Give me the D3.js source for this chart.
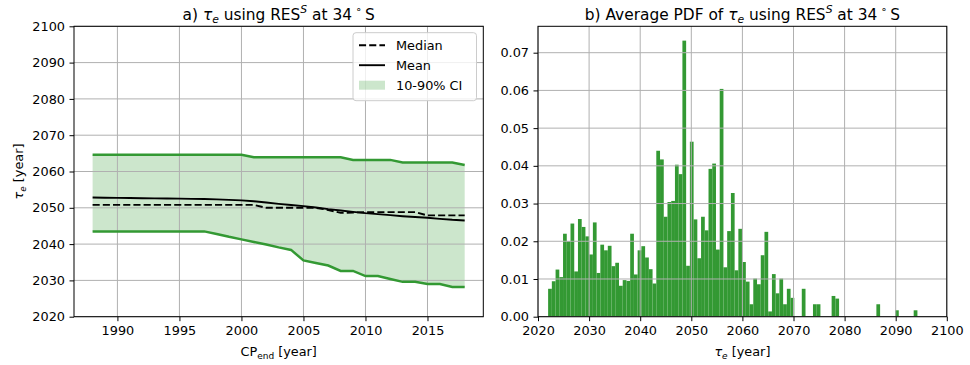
<!DOCTYPE html>
<html>
<head>
<meta charset="utf-8">
<script src="https://cdn.jsdelivr.net/npm/d3@7"></script>
<style>
  body { margin: 0; background: #fff; }
  svg { display: block; font-family: "DejaVu Sans", sans-serif; }
  text { white-space: pre; }
</style>
</head>
<body>
<svg id="fig" width="970" height="365"></svg>
<script>
// ---- Panel a: tau_e versus end year of the calibration period ----
const cpEndYears = [1988, 1989, 1990, 1991, 1992, 1993, 1994, 1995, 1996, 1997,
  1998, 1999, 2000, 2001, 2002, 2003, 2004, 2005, 2006, 2007,
  2008, 2009, 2010, 2011, 2012, 2013, 2014, 2015, 2016, 2017, 2018];
const ciUpper = [2064.6, 2064.6, 2064.6, 2064.6, 2064.6, 2064.6, 2064.6, 2064.6, 2064.6, 2064.6,
  2064.6, 2064.6, 2064.6, 2063.9, 2063.9, 2063.9, 2063.9, 2063.9, 2063.9, 2063.9,
  2063.9, 2063.2, 2063.2, 2063.2, 2063.2, 2062.5, 2062.5, 2062.5, 2062.5, 2062.5, 2061.8];
const ciLower = [2043.5, 2043.5, 2043.5, 2043.5, 2043.5, 2043.5, 2043.5, 2043.5, 2043.5, 2043.5,
  2042.8, 2042.0, 2041.3, 2040.6, 2039.9, 2039.1, 2038.4, 2035.5, 2034.8, 2034.1,
  2032.6, 2032.6, 2031.2, 2031.2, 2030.4, 2029.6, 2029.6, 2029.0, 2029.0, 2028.2, 2028.2];
const medianTau = [2050.8, 2050.8, 2050.8, 2050.8, 2050.8, 2050.8, 2050.8, 2050.8, 2050.8, 2050.8,
  2050.8, 2050.8, 2050.8, 2050.8, 2050.0, 2050.0, 2050.0, 2050.0, 2050.0, 2049.4,
  2048.6, 2048.7, 2048.8, 2048.8, 2048.8, 2048.8, 2048.8, 2047.9, 2047.9, 2047.9, 2047.9];
const meanTau = [2052.83, 2052.78, 2052.74, 2052.70, 2052.65, 2052.61, 2052.56, 2052.52, 2052.47, 2052.42,
  2052.33, 2052.19, 2052.05, 2051.82, 2051.46, 2051.09, 2050.77, 2050.45, 2050.08, 2049.62,
  2049.25, 2048.89, 2048.52, 2048.25, 2047.97, 2047.69, 2047.47, 2047.24, 2046.96, 2046.69, 2046.50];
const leftXTicks = [1990, 1995, 2000, 2005, 2010, 2015];
const leftYTicks = [2020, 2030, 2040, 2050, 2060, 2070, 2080, 2090, 2100];
const legendLabels = ["Median", "Mean", "10-90% CI"];

// ---- Panel b: average PDF of tau_e (histogram) ----
const pdfBinStart = 2021.98;
const pdfBinWidth = 0.73;
const pdfValues = [
  0.0074, 0.0094, 0.0125, 0.0105, 0.0220, 0.0200, 0.0247, 0.0120, 0.0259, 0.0238,
  0.0213, 0.0165, 0.0250, 0.0116, 0.0191, 0.0176, 0.0188, 0.0134, 0.0143, 0.0082,
  0.0097, 0.0095, 0.0220, 0.0112, 0.0176, 0.0187, 0.0157, 0.0126, 0.0088, 0.0440,
  0.0417, 0.0265, 0.0304, 0.0307, 0.0403, 0.0378, 0.0732, 0.0135, 0.0464, 0.0258,
  0.0155, 0.0265, 0.0229, 0.0392, 0.0406, 0.0178, 0.0604, 0.0131, 0.0227, 0.0328,
  0.0123, 0.0233, 0.0145, 0.0093, 0.0033, 0.0101, 0.0086, 0.0163, 0.0225, 0.0014,
  0.0113, 0.0062, 0.0101, 0.0033, 0.0074, 0.0050, 0, 0, 0.0074, 0,
  0, 0.0033, 0.0033, 0, 0, 0, 0.0055, 0.0048, 0, 0,
  0, 0, 0, 0, 0, 0, 0, 0, 0.0033, 0,
  0, 0, 0, 0.0017, 0, 0, 0, 0, 0.0017];
const rightXTicks = [2020, 2030, 2040, 2050, 2060, 2070, 2080, 2090, 2100];
const rightYTicks = [0, 0.01, 0.02, 0.03, 0.04, 0.05, 0.06, 0.07];

// ---- styling ----
const FS = 12.85, TITLE_FS = 15.4;
const lineGreen = "#339933";
const fillGreen = "#008000";
const gridColor = "#b0b0b0";

const svg = d3.select("#fig");
const axTop = 26.3, axBottom = 316.7;
const panelA = { left: 74, right: 483.3 };
const panelB = { left: 538, right: 946.8 };

const xA = d3.scaleLinear().domain([1986.5, 2019.5]).range([panelA.left, panelA.right]);
const yA = d3.scaleLinear().domain([2020, 2100]).range([axBottom, axTop]);
const xB = d3.scaleLinear().domain([2020, 2100]).range([panelB.left, panelB.right]);
const yB = d3.scaleLinear().domain([0, 0.077]).range([axBottom, axTop]);

// mixed-style text (italic symbols, sub/superscripts)
function rich(sel, parts, fs) {
  let cur = 0;
  parts.forEach(p => {
    const target = p.pos === "sub" ? 0.24 * fs : p.pos === "sup" ? -0.45 * fs : 0;
    const ts = sel.append("tspan").text(p.t).attr("dy", target - cur);
    cur = target;
    if (p.pos) ts.attr("font-size", 0.7 * fs);
    if (p.i) ts.attr("font-style", "italic");
  });
  return sel;
}

function grid(g, xs, ys, xTicks, yTicks) {
  const [x0, x1] = xs.range(), [y0, y1] = ys.range();
  g.selectAll("line.gx").data(xTicks).join("line").attr("class", "gx")
    .attr("x1", d => xs(d)).attr("x2", d => xs(d)).attr("y1", y0).attr("y2", y1)
    .attr("stroke", gridColor).attr("stroke-width", 1);
  g.selectAll("line.gy").data(yTicks).join("line").attr("class", "gy")
    .attr("x1", x0).attr("x2", x1).attr("y1", d => ys(d)).attr("y2", d => ys(d))
    .attr("stroke", gridColor).attr("stroke-width", 1);
}

function axes(xs, ys, xTicks, yTicks, yFmt) {
  const gx = svg.append("g").attr("transform", `translate(0,${axBottom})`)
    .call(d3.axisBottom(xs).tickValues(xTicks).tickFormat(d3.format("d"))
      .tickSize(4.5).tickSizeOuter(0).tickPadding(4.5));
  const gy = svg.append("g").attr("transform", `translate(${xs.range()[0]},0)`)
    .call(d3.axisLeft(ys).tickValues(yTicks).tickFormat(yFmt)
      .tickSize(4.5).tickSizeOuter(0).tickPadding(4.5));
  [gx, gy].forEach(g => {
    g.select(".domain").remove();
    g.selectAll("text").attr("font-size", FS).attr("fill", "#000")
      .attr("font-family", "DejaVu Sans");
    g.selectAll("line").attr("stroke", "#000").attr("stroke-width", 1);
  });
  svg.append("rect")
    .attr("x", xs.range()[0]).attr("y", axTop)
    .attr("width", xs.range()[1] - xs.range()[0]).attr("height", axBottom - axTop)
    .attr("fill", "none").attr("stroke", "#000").attr("stroke-width", 1);
}

// ================= Panel a =================
const gA = svg.append("g");
const rowsA = cpEndYears.map((y, i) => ({ y, lo: ciLower[i], hi: ciUpper[i], med: medianTau[i], mean: meanTau[i] }));

gA.append("path").datum(rowsA)
  .attr("d", d3.area().x(d => xA(d.y)).y0(d => yA(d.lo)).y1(d => yA(d.hi)))
  .attr("fill", fillGreen).attr("fill-opacity", 0.2);

grid(gA.append("g"), xA, yA, leftXTicks, leftYTicks);

const lineOf = key => d3.line().x(d => xA(d.y)).y(d => yA(d[key]));
gA.append("path").datum(rowsA).attr("d", lineOf("hi"))
  .attr("fill", "none").attr("stroke", lineGreen).attr("stroke-width", 2.5);
gA.append("path").datum(rowsA).attr("d", lineOf("lo"))
  .attr("fill", "none").attr("stroke", lineGreen).attr("stroke-width", 2.5);
gA.append("path").datum(rowsA).attr("d", lineOf("med"))
  .attr("fill", "none").attr("stroke", "#000").attr("stroke-width", 1.9)
  .attr("stroke-dasharray", "7.1,3.1");
gA.append("path").datum(rowsA).attr("d", lineOf("mean"))
  .attr("fill", "none").attr("stroke", "#000").attr("stroke-width", 1.9);

axes(xA, yA, leftXTicks, leftYTicks, d3.format("d"));

// legend
const lg = svg.append("g").attr("transform", "translate(353,32.7)");
lg.append("rect").attr("width", 123.5).attr("height", 68).attr("rx", 3)
  .attr("fill", "#fff").attr("fill-opacity", 0.8).attr("stroke", "#cccccc").attr("stroke-width", 1);
const rowY = [12.5, 32.5, 52.5];
lg.append("line").attr("x1", 6).attr("x2", 32).attr("y1", rowY[0]).attr("y2", rowY[0])
  .attr("stroke", "#000").attr("stroke-width", 1.9).attr("stroke-dasharray", "7.1,3.1");
lg.append("line").attr("x1", 6).attr("x2", 32).attr("y1", rowY[1]).attr("y2", rowY[1])
  .attr("stroke", "#000").attr("stroke-width", 1.9);
lg.append("rect").attr("x", 6).attr("y", rowY[2] - 4.5).attr("width", 26).attr("height", 9)
  .attr("fill", fillGreen).attr("fill-opacity", 0.2);
lg.selectAll("text.lab").data(legendLabels).join("text").attr("class", "lab")
  .attr("x", 43).attr("y", (d, i) => rowY[i]).attr("dy", "0.36em")
  .attr("font-size", FS).text(d => d);

// ================= Panel b =================
const gB = svg.append("g");
const bins = pdfValues.map((v, i) => ({ x0: pdfBinStart + i * pdfBinWidth, x1: pdfBinStart + (i + 1) * pdfBinWidth, v }))
  .filter(b => b.v > 0);
gB.selectAll("rect.bar").data(bins).join("rect").attr("class", "bar")
  .attr("x", d => xB(d.x0)).attr("width", d => xB(d.x1) - xB(d.x0))
  .attr("y", d => yB(d.v)).attr("height", d => yB(0) - yB(d.v))
  .attr("fill", lineGreen);

grid(gB.append("g"), xB, yB, rightXTicks, rightYTicks);
axes(xB, yB, rightXTicks, rightYTicks, d3.format(".2f"));

// ================= titles and labels =================
const midA = (panelA.left + panelA.right) / 2, midB = (panelB.left + panelB.right) / 2;
rich(svg.append("text").attr("x", midA).attr("y", 19.5).attr("text-anchor", "middle").attr("font-size", TITLE_FS),
  [{ t: "a) " }, { t: "τ", i: 1 }, { t: "e", i: 1, pos: "sub" }, { t: " using RES" }, { t: "S", i: 1, pos: "sup" },
   { t: " at 34\u2009" }, { t: "∘", pos: "sup" }, { t: "\u2009S" }], TITLE_FS);
rich(svg.append("text").attr("x", midB).attr("y", 19.5).attr("text-anchor", "middle").attr("font-size", TITLE_FS),
  [{ t: "b) Average PDF of " }, { t: "τ", i: 1 }, { t: "e", i: 1, pos: "sub" }, { t: " using RES" }, { t: "S", i: 1, pos: "sup" },
   { t: " at 34\u2009" }, { t: "∘", pos: "sup" }, { t: "\u2009S" }], TITLE_FS);

rich(svg.append("text").attr("x", midA).attr("y", 355.5).attr("text-anchor", "middle").attr("font-size", FS),
  [{ t: "CP" }, { t: "end", pos: "sub" }, { t: " [year]" }], FS);
rich(svg.append("text").attr("x", midB).attr("y", 355.5).attr("text-anchor", "middle").attr("font-size", FS),
  [{ t: "τ", i: 1 }, { t: "e", i: 1, pos: "sub" }, { t: " [year]" }], FS);
rich(svg.append("text").attr("transform", `translate(23,${(axTop + axBottom) / 2}) rotate(-90)`)
  .attr("text-anchor", "middle").attr("font-size", FS),
  [{ t: "τ", i: 1 }, { t: "e", i: 1, pos: "sub" }, { t: " [year]" }], FS);
</script>
</body>
</html>
